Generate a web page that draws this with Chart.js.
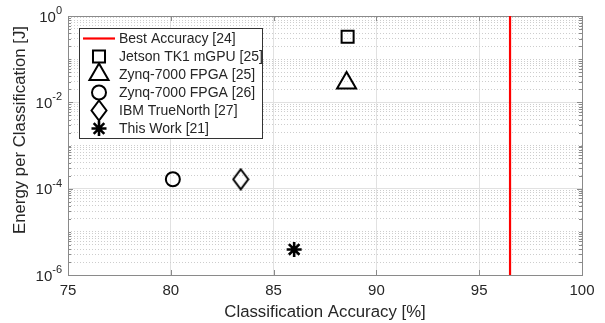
<!DOCTYPE html>
<html>
<head>
<meta charset="utf-8">
<script src="https://cdn.jsdelivr.net/npm/chart.js@4.4.1/dist/chart.umd.min.js"></script>
<style>
  html, body { margin: 0; padding: 0; background: #ffffff; }
  canvas { display: block; }
</style>
</head>
<body>
<canvas id="chart" width="605" height="323"></canvas>
<script>
// Energy per classification versus classification accuracy for several platforms.
const platforms = [
  'Jetson TK1 mGPU [25]',
  'Zynq-7000 FPGA [25]',
  'Zynq-7000 FPGA [26]',
  'IBM TrueNorth [27]',
  'This Work [21]'
];
const accuracyPct = [88.6, 88.55, 80.1, 83.4, 86.0];
const energyJ = [0.33, 0.028, 1.65e-4, 1.65e-4, 3.9e-6];

const bestAccuracyLabel = 'Best Accuracy [24]';
const bestAccuracyPct = 96.5;

const xTicks = [75, 80, 85, 90, 95, 100];
const yLabelExponents = [0, -2, -4, -6];

const FONT = "'Liberation Sans', Arial, Helvetica, sans-serif";
const TEXT = '#262626';
const AXIS = '#8a8a8a';
const MAJOR_GRID = '#e1e1e1';
const MINOR_GRID = '#cdcdcd';

// Diamond marker (taller than wide) as a small canvas image
function makeDiamond(w, h, lw) {
  const c = document.createElement('canvas');
  c.width = w; c.height = h;
  const g = c.getContext('2d');
  g.strokeStyle = '#000000';
  g.lineWidth = lw;
  g.lineJoin = 'miter';
  const p = lw / 2 + 0.5;
  g.beginPath();
  g.moveTo(w / 2, p);
  g.lineTo(w - p, h / 2);
  g.lineTo(w / 2, h - p);
  g.lineTo(p, h / 2);
  g.closePath();
  g.stroke();
  return c;
}

const markerStyle = [
  { pointStyle: 'rect', radius: 8.5, width: 2 },
  { pointStyle: 'triangle', radius: 11, width: 2 },
  { pointStyle: 'circle', radius: 7, width: 2 },
  { pointStyle: makeDiamond(18, 23, 2), radius: 10, width: 2 },
  { pointStyle: 'star', radius: 7.5, width: 2.6 }
];

// Log-axis tick values: every k·10^e, labels only on even decades
const yTickValues = [];
for (let e = -6; e < 0; e++) {
  for (let k = 1; k <= 9; k++) yTickValues.push(Number((k * Math.pow(10, e)).toPrecision(3)));
}
yTickValues.push(1);

function isLabeledDecade(v) {
  const l = Math.log10(v);
  const r = Math.round(l);
  return Math.abs(l - r) < 1e-9 && yLabelExponents.includes(r);
}

const datasets = [
  {
    type: 'line',
    label: bestAccuracyLabel,
    data: [{ x: bestAccuracyPct, y: 1e-6 }, { x: bestAccuracyPct, y: 1 }],
    borderColor: '#ff0000',
    borderWidth: 2.2,
    pointRadius: 0,
    fill: false
  }
].concat(platforms.map((name, i) => ({
  type: 'scatter',
  label: name,
  data: [{ x: accuracyPct[i], y: energyJ[i] }],
  pointStyle: markerStyle[i].pointStyle,
  pointRadius: markerStyle[i].radius,
  pointBorderWidth: markerStyle[i].width,
  borderColor: '#000000',
  backgroundColor: 'rgba(0,0,0,0)',
  pointBackgroundColor: 'rgba(0,0,0,0)'
})));

// Box, inward tick marks, superscript decade labels, axis titles and legend
const decorations = {
  id: 'decorations',
  beforeDatasetsDraw(chart) {
    const { ctx, chartArea: a, scales: { x, y } } = chart;
    ctx.save();
    ctx.strokeStyle = AXIS;
    ctx.lineWidth = 1;
    ctx.beginPath();
    xTicks.forEach(v => {
      const px = Math.round(x.getPixelForValue(v)) + 0.5;
      ctx.moveTo(px, a.bottom); ctx.lineTo(px, a.bottom - 5);
      ctx.moveTo(px, a.top); ctx.lineTo(px, a.top + 5);
    });
    yTickValues.forEach(v => {
      const py = Math.round(y.getPixelForValue(v)) + 0.5;
      const len = isLabeledDecade(v) ? 5 : 3;
      ctx.moveTo(a.left, py); ctx.lineTo(a.left + len, py);
      ctx.moveTo(a.right, py); ctx.lineTo(a.right - len, py);
    });
    ctx.stroke();
    ctx.strokeRect(Math.round(a.left) + 0.5, Math.round(a.top) + 0.5,
      Math.round(a.right - a.left), Math.round(a.bottom - a.top));
    ctx.restore();
  },
  afterDraw(chart) {
    const { ctx, chartArea: a, scales: { y } } = chart;
    ctx.save();
    ctx.fillStyle = TEXT;

    // decade labels 10^e
    const rightEdge = a.left - 6;
    yLabelExponents.forEach(e => {
      const py = y.getPixelForValue(Math.pow(10, e));
      const expText = String(e);
      ctx.font = '11px ' + FONT;
      const ew = ctx.measureText(expText).width;
      ctx.font = '15px ' + FONT;
      const bw = ctx.measureText('10').width;
      ctx.textAlign = 'left';
      ctx.textBaseline = 'middle';
      ctx.fillText('10', rightEdge - ew - bw, py + 1.5);
      ctx.font = '11px ' + FONT;
      ctx.fillText(expText, rightEdge - ew, py - 5);
    });

    // axis titles
    ctx.font = '16.8px ' + FONT;
    ctx.textAlign = 'center';
    ctx.textBaseline = 'middle';
    ctx.fillText('Classification Accuracy [%]', (a.left + a.right) / 2, 312);
    ctx.save();
    ctx.translate(20, 130);
    ctx.rotate(-Math.PI / 2);
    ctx.fillText('Energy per Classification [J]', 0, 0);
    ctx.restore();

    // legend
    const box = { x: 79.5, y: 28.5, w: 183, h: 110 };
    ctx.fillStyle = '#ffffff';
    ctx.fillRect(box.x, box.y, box.w, box.h);
    ctx.strokeStyle = '#333333';
    ctx.lineWidth = 1;
    ctx.strokeRect(box.x, box.y, box.w, box.h);
    const rowTop = 38.5, rowStep = 18, markX = 99;
    chart.data.datasets.forEach((ds, i) => {
      const ry = rowTop + i * rowStep;
      if (ds.type === 'line') {
        ctx.strokeStyle = ds.borderColor;
        ctx.lineWidth = ds.borderWidth;
        ctx.beginPath();
        ctx.moveTo(83, ry); ctx.lineTo(115, ry);
        ctx.stroke();
      } else {
        ctx.strokeStyle = '#000000';
        ctx.fillStyle = 'rgba(0,0,0,0)';
        ctx.lineWidth = ds.pointBorderWidth;
        Chart.helpers.drawPoint(ctx, {
          pointStyle: ds.pointStyle, radius: ds.pointRadius,
          rotation: 0, borderWidth: ds.pointBorderWidth
        }, markX, ry);
      }
      ctx.fillStyle = TEXT;
      ctx.font = '14px ' + FONT;
      ctx.textAlign = 'left';
      ctx.textBaseline = 'middle';
      ctx.fillText(ds.label, 119, ry + 0.5);
    });
    ctx.restore();
  }
};

new Chart(document.getElementById('chart'), {
  data: { datasets },
  options: {
    responsive: false,
    animation: false,
    events: [],
    layout: { padding: { left: 0, top: 16, right: 23, bottom: 0 } },
    plugins: { legend: { display: false }, tooltip: { enabled: false } },
    scales: {
      x: {
        type: 'linear',
        min: 75,
        max: 100,
        afterBuildTicks: s => { s.ticks = xTicks.map(v => ({ value: v })); },
        afterFit: s => { s.height = 48; },
        ticks: {
          autoSkip: false,
          maxRotation: 0,
          color: TEXT,
          padding: 7,
          font: { family: FONT, size: 15 }
        },
        grid: {
          drawTicks: false,
          color: c => (c.tick && (c.tick.value === 75 || c.tick.value === 100)) ? 'rgba(0,0,0,0)' : MAJOR_GRID
        },
        border: { display: false }
      },
      y: {
        type: 'logarithmic',
        min: 1e-6,
        max: 1,
        afterBuildTicks: s => { s.ticks = yTickValues.map(v => ({ value: v })); },
        afterFit: s => { s.width = 68; },
        ticks: { display: false },
        grid: {
          drawTicks: false,
          color: c => {
            if (!c.tick) return MAJOR_GRID;
            if (c.tick.value <= 1e-6 || c.tick.value >= 1) return 'rgba(0,0,0,0)';
            return isLabeledDecade(c.tick.value) ? MAJOR_GRID : MINOR_GRID;
          }
        },
        border: {
          display: false,
          dash: c => (c.tick && !isLabeledDecade(c.tick.value)) ? [1, 2] : []
        }
      }
    }
  },
  plugins: [decorations]
});
</script>
</body>
</html>
